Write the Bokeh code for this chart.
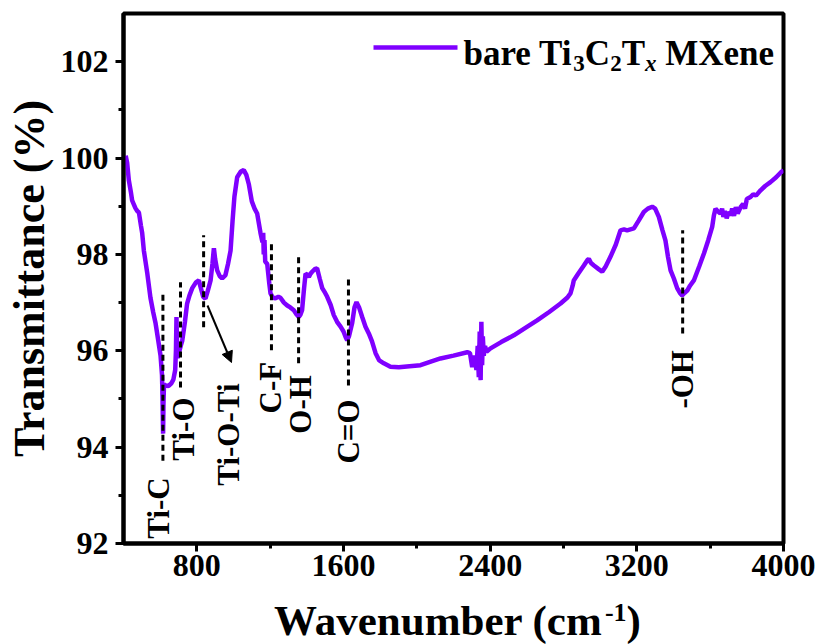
import math
from bokeh.plotting import figure
from bokeh.layouts import column
from bokeh.models import Range1d, FixedTicker, Label, Arrow, NormalHead
from bokeh.core.properties import value
from bokeh.embed import file_html
from bokeh.resources import INLINE

# ---------------- data ----------------
wavenumber = [412, 420, 429, 440, 447, 455, 465, 475, 484, 495, 502, 511, 530, 547, 562, 575, 590,
              602, 610, 613, 616, 618, 621, 630, 645, 660, 672, 682, 686, 689, 691, 695, 702, 712,
              720, 735, 747, 760, 775, 795, 811, 822, 835, 847, 860, 875, 885, 893, 900, 911, 925,
              938, 956, 970, 984, 995, 1005, 1020, 1040, 1056, 1070, 1084, 1100, 1115, 1129, 1147,
              1158, 1162, 1165, 1169, 1173, 1184, 1195, 1202, 1215, 1229, 1245, 1256, 1275, 1293,
              1310, 1329, 1345, 1356, 1365, 1374, 1385, 1393, 1402, 1411, 1420, 1429, 1445, 1456,
              1470, 1484, 1500, 1511, 1530, 1547, 1565, 1584, 1600, 1612, 1620, 1630, 1647, 1660,
              1671, 1685, 1702, 1720, 1738, 1755, 1775, 1795, 1820, 1856, 1902, 1960, 2020, 2080,
              2129, 2200, 2275, 2290, 2302, 2315, 2325, 2332, 2338, 2343, 2348, 2352, 2356, 2360,
              2365, 2372, 2380, 2402, 2460, 2529, 2590, 2656, 2720, 2784, 2820, 2838, 2850, 2856,
              2880, 2911, 2930, 2938, 2950, 2966, 2990, 3011, 3030, 3056, 3085, 3111, 3130, 3147,
              3165, 3184, 3210, 3238, 3260, 3284, 3300, 3320, 3340, 3356, 3370, 3384, 3402, 3420,
              3435, 3447, 3460, 3475, 3490, 3511, 3540, 3566, 3590, 3611, 3620, 3629, 3640, 3656,
              3665, 3672, 3680, 3690, 3700, 3711, 3720, 3730, 3740, 3750, 3766, 3780, 3790, 3800,
              3820, 3835, 3850, 3875, 3900, 3929, 3960, 3985, 4000]
transmittance = [100.05, 99.9, 99.54, 99.3, 99.12, 99.05, 98.96, 98.9, 98.87, 98.6, 98.44, 98.08,
                 97.6, 97.1, 96.8, 96.57, 96.2, 95.9, 95.5, 95.0, 94.28, 94.9, 95.3, 95.28, 95.27,
                 95.32, 95.4, 95.6, 96.0, 96.7, 96.3, 95.85, 95.95, 96.1, 96.2, 96.6, 96.98, 97.15,
                 97.3, 97.42, 97.46, 97.3, 97.12, 97.08, 97.25, 97.46, 97.8, 98.13, 97.9, 97.67,
                 97.55, 97.5, 97.57, 97.8, 98.08, 98.7, 99.2, 99.6, 99.72, 99.75, 99.65, 99.45,
                 99.1, 98.95, 98.85, 98.45, 98.25, 98.45, 98.0, 98.3, 97.85, 97.8, 97.4, 97.19,
                 97.1, 97.09, 97.12, 97.1, 97.0, 96.94, 96.9, 96.84, 96.75, 96.7, 96.75, 96.84,
                 97.3, 97.6, 97.58, 97.53, 97.6, 97.64, 97.7, 97.71, 97.5, 97.3, 97.2, 97.12,
                 96.95, 96.74, 96.6, 96.5, 96.4, 96.28, 96.22, 96.3, 96.57, 96.9, 97.01, 96.9,
                 96.7, 96.5, 96.36, 96.2, 95.95, 95.8, 95.74, 95.67, 95.66, 95.68, 95.7, 95.78,
                 95.84, 95.9, 95.97, 95.95, 95.66, 95.9, 95.6, 96.1, 95.45, 96.4, 95.39, 96.6,
                 95.7, 96.3, 95.9, 96.1, 95.98, 96.05, 96.18, 96.32, 96.47, 96.63, 96.8, 96.98,
                 97.1, 97.19, 97.35, 97.46, 97.6, 97.77, 97.88, 97.91, 97.82, 97.77, 97.7, 97.64,
                 97.75, 97.95, 98.2, 98.5, 98.52, 98.5, 98.52, 98.54, 98.7, 98.88, 98.95, 98.99,
                 98.95, 98.78, 98.5, 98.29, 97.95, 97.67, 97.5, 97.3, 97.2, 97.15, 97.2, 97.25,
                 97.35, 97.46, 97.75, 98.02, 98.3, 98.57, 98.8, 98.95, 98.9, 98.85, 98.95, 98.78,
                 98.9, 98.75, 98.88, 98.81, 98.95, 98.8, 98.98, 98.85, 98.98, 99.05, 98.95, 99.15,
                 99.19, 99.25, 99.22, 99.33, 99.42, 99.5, 99.6, 99.7, 99.75]

x_ticks = [800, 1600, 2400, 3200, 4000]
x_minor_ticks = [1200, 2000, 2800, 3600]
y_ticks = [92, 94, 96, 98, 100, 102]
y_minor_ticks = [93, 95, 97, 99, 101]

peak_labels = ["Ti-C", "Ti-O", "Ti-O-Ti", "C-F", "O-H", "C=O", "-OH"]
peak_wavenumber = [615, 711, 837, 1207, 1355, 1627, 3450]
marker_top = [97.23, 97.42, 98.4, 98.23, 97.94, 97.48, 98.5]
marker_bottom = [93.72, 95.24, 96.49, 96.01, 95.74, 95.28, 96.36]
# label anchor (start of rotated text) placement
label_x = [591, 727, 973, 1202, 1366, 1627, 3450]
label_y = [92.10, 93.72, 93.2, 94.7, 94.28, 93.66, 94.8]

series_name = ["bare Ti", "3", "C", "2", "T", "x", "MXene"]
x_title = ["Wavenumber (cm", "-1", ")"]

# ---------------- layout constants ----------------
W, H = 821, 644
MAIN_H = 592
FL, FR, FT, FB = 123, 783, 13, 543   # frame edges in px
X0, X1, Y0, Y1 = 400, 4000, 92, 103
FONT = "Liberation Serif"
PURPLE = "#7F00FF"
BASELINE_FIX = 0.27   # Bokeh's alphabetic baseline sits ~0.27 em low


def dx(px):
    return X0 + (px - FL) * (X1 - X0) / (FR - FL)


def dy(py):
    return Y0 + (FB - py) * (Y1 - Y0) / (FB - FT)


# Times/Liberation Serif Bold advance widths (per em)
ADV = {'b': .556, 'a': .5, 'r': .444, 'e': .444, ' ': .25, 'T': .667, 'i': .278, 'C': .722,
       'M': .944, 'X': .722, 'n': .556, 'W': 1.0, 'v': .5, 'u': .556, 'm': .833, '(': .333,
       ')': .333, 'c': .444, '-': .333, 'x': .5}


def width(s, size):
    return sum(ADV.get(ch, .5) for ch in s) * size


p = figure(width=W, height=MAIN_H, x_range=Range1d(X0, X1), y_range=Range1d(Y0, Y1),
           output_backend="svg", toolbar_location=None,
           min_border_left=FL, min_border_right=W - FR, min_border_top=FT,
           min_border_bottom=MAIN_H - FB)
p.grid.visible = False
p.background_fill_color = "white"
p.border_fill_color = "white"
p.outline_line_color = "black"
p.outline_line_width = 4
p.outline_line_alpha = 1

for ax in (p.xaxis[0], p.yaxis[0]):
    ax.axis_line_width = 4
    ax.axis_line_color = "black"
    ax.major_tick_out = 8
    ax.major_tick_in = 0
    ax.minor_tick_out = 5
    ax.minor_tick_in = 0
    ax.major_tick_line_width = 3
    ax.minor_tick_line_width = 3
    ax.major_label_text_font = FONT
    ax.major_label_text_font_style = "bold"
    ax.major_label_text_font_size = "32px"
    ax.major_label_text_color = "black"

p.xaxis.ticker = FixedTicker(ticks=x_ticks, minor_ticks=x_minor_ticks)
p.yaxis.ticker = FixedTicker(ticks=y_ticks, minor_ticks=y_minor_ticks)
p.xaxis.major_label_standoff = 3
p.yaxis.major_label_standoff = 7

p.yaxis.axis_label = "Transmittance (%)"
p.yaxis.axis_label_text_font = FONT
p.yaxis.axis_label_text_font_style = "bold"
p.yaxis.axis_label_text_font_size = "44px"
p.yaxis.axis_label_text_color = "black"
p.yaxis.axis_label_standoff = 4

# spectrum
p.line(wavenumber, transmittance, line_color=PURPLE, line_width=4.5)

# dashed markers
p.segment(x0=peak_wavenumber, y0=marker_bottom, x1=peak_wavenumber, y1=marker_top,
          line_color="black", line_width=3, line_dash="6 4")

# rotated labels
p.text(x=label_x, y=label_y, text=peak_labels, angle=math.pi / 2,
       text_font=value(FONT), text_font_style="bold", text_font_size="31px",
       text_align="left", text_baseline="middle", text_color="black")

# arrow for Ti-O-Ti
p.add_layout(Arrow(end=NormalHead(size=11, fill_color="black", line_color="black"),
                   x_start=dx(207), y_start=dy(305), x_end=dx(231), y_end=dy(362),
                   line_width=2, line_color="black"))

# legend (manual, for sub-scripts)
p.line([dx(373), dx(457)], [dy(47), dy(47)], line_color=PURPLE, line_width=4.5)
lsz, lsub = 35, 23
lbase = 62
styles = [(lsz, 0, "bold", 0), (lsub, 7, "bold", 0), (lsz, 0, "bold", 0), (lsub, 7, "bold", 0),
          (lsz, 0, "bold", 0), (lsub, 7, "bold italic", 0), (lsz, 0, "bold", 0.25 * lsz)]
cx = 463
for txt, (sz, off, st, gap) in zip(series_name, styles):
    cx += gap
    p.add_layout(Label(x=dx(cx), y=dy(lbase + off - BASELINE_FIX * sz), text=txt, text_font=FONT,
                       text_font_size=f"{sz}px", text_font_style=st,
                       text_baseline="alphabetic", text_align="left", text_color="black"))
    cx += width(txt, sz)

# ---------------- x-axis title strip (for the superscript) ----------------
TH = H - MAIN_H
t = figure(width=W, height=TH, x_range=Range1d(FL, FR), y_range=Range1d(0, TH),
           output_backend="svg", toolbar_location=None, x_axis_type=None, y_axis_type=None,
           min_border_left=FL, min_border_right=W - FR, min_border_top=0, min_border_bottom=0)
t.grid.visible = False
t.outline_line_color = None
t.background_fill_color = "white"
t.border_fill_color = "white"

tsz, ssz = 43, 26
sizes = [tsz, ssz, tsz]
base_local = 632 - MAIN_H        # baseline measured from strip top
raise_px = [0, 13, 0]
total = sum(width(s, z) for s, z in zip(x_title, sizes))
cx = (FL + FR) / 2 + 4 - total / 2
for txt, sz, rp in zip(x_title, sizes, raise_px):
    t.text(x=[cx], y=[TH - base_local + rp + BASELINE_FIX * sz], text=[txt], text_font=value(FONT),
           text_font_size=f"{sz}px", text_font_style="bold", text_align="left",
           text_baseline="alphabetic", text_color="black")
    cx += width(txt, sz)

layout = column(p, t, spacing=0)
open("out.html", "w").write(file_html(layout, INLINE))
